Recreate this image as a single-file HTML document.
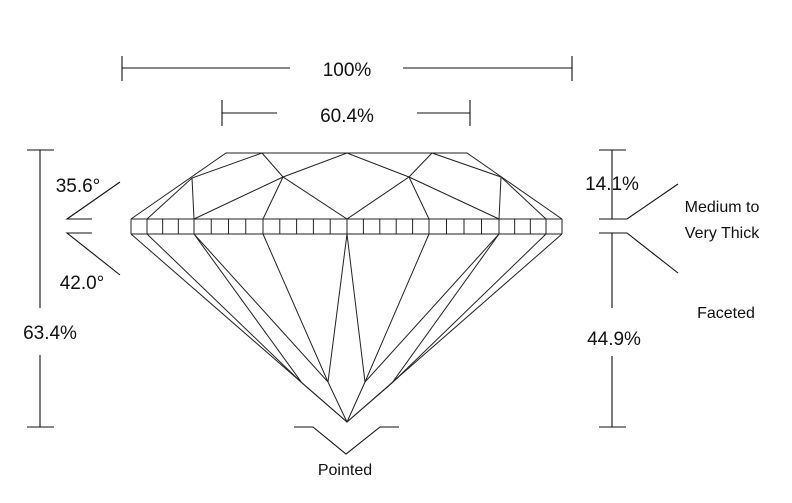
<!DOCTYPE html>
<html><head><meta charset="utf-8"><style>
html,body{margin:0;padding:0;background:#fff;width:792px;height:503px;overflow:hidden}
svg{display:block}
text{font-family:"Liberation Sans",sans-serif;fill:#111}
</style></head><body>
<svg id="chart" width="792" height="503" viewBox="0 0 792 503">
<g stroke="#111" stroke-width="1.1" fill="none">
<path d="M122 68H290M403 68H572M122 56V81M572 56V81"/>
<path d="M222 113H277M417 113H470M222 100V126M470 100V126"/>
<path d="M40 150V308M40 355V427M27 150H54M27 427H54"/>
<path d="M92 219H67L120 182M92 233H67L120 275"/>
<path d="M612 150V219M612 233V308M612 356V427M599 150H626M599 427H626"/>
<path d="M599 219H627L678 184M599 233H627L678 273"/>
<path d="M294 427H313L346 454L380 427H399"/>
</g>
<g font-size="19" text-anchor="middle">
<text x="347" y="76">100%</text>
<text x="347" y="122">60.4%</text>
<text x="78" y="192">35.6°</text>
<text x="82" y="289">42.0°</text>
<text x="50" y="339">63.4%</text>
<text x="612" y="190">14.1%</text>
<text x="614" y="345">44.9%</text>
</g>
<g font-size="16" text-anchor="middle">
<text x="722" y="212">Medium to</text>
<text x="722" y="238">Very Thick</text>
<text x="726" y="318">Faceted</text>
<text x="345" y="475">Pointed</text>
</g>
<g id="gem" stroke="#222" stroke-width="1" fill="none"></g>
</svg>
<script>
const mainX=[131,147,194,263,347,429,499,546,562];
const g=document.getElementById('gem');
function ln(pts,name){
  const p=document.createElementNS('http://www.w3.org/2000/svg','polyline');
  p.setAttribute('points',pts.map(a=>a.join(',')).join(' '));
  
  
  g.appendChild(p);
}
// crown
ln([[131,219],[226,153],[467,153],[562,219]],'crown-outline');
ln([[147,219],[192,178],[262,153]],'crown-facet');
ln([[192,178],[194,219]],'crown-facet');
ln([[262,153],[283,177],[347,153],[409,177],[432,153]],'star-facets');
ln([[194,219],[283,177],[347,219],[409,177],[499,219]],'crown-facet');
ln([[283,177],[263,219]],'crown-facet');
ln([[409,177],[429,219]],'crown-facet');
ln([[432,153],[501,177],[546,219]],'crown-facet');
ln([[501,177],[499,219]],'crown-facet');
// girdle
ln([[131,219],[562,219]],'girdle-top');
ln([[131,234],[562,234]],'girdle-bottom');
for(let i=0;i<mainX.length-1;i++){
  const a=mainX[i],b=mainX[i+1],n=Math.max(1,Math.round((b-a)/16));
  for(let k=0;k<=n;k++){const x=a+(b-a)*k/n;ln([[x,219],[x,234]],'girdle-segment');}
}
// pavilion
ln([[131,234],[347,422],[562,234]],'pavilion-outline');
ln([[147,234],[302,383],[194,234],[328,382],[263,234]],'pavilion-facet');
ln([[347,234],[328,382]],'pavilion-facet');
ln([[347,234],[365,382],[429,234]],'pavilion-facet');
ln([[499,234],[365,382]],'pavilion-facet');
ln([[499,234],[392,383],[546,234]],'pavilion-facet');
ln([[302,383],[347,422],[392,383]],'pavilion-facet');
ln([[328,382],[347,422],[365,382]],'pavilion-facet');
</script>
</body></html>
